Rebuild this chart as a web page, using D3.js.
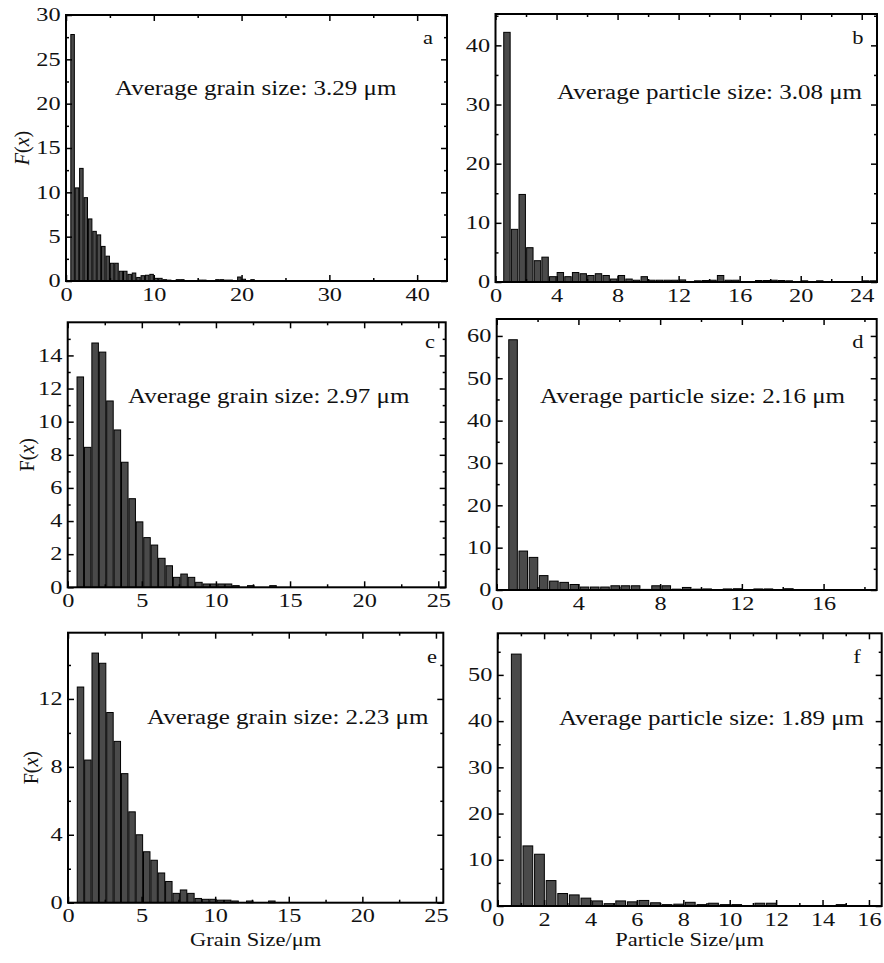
<!DOCTYPE html>
<head>
<meta charset="utf-8">
<style>
  body { margin:0; background:#fff; }
  svg { display:block; }
  text { font-family:"Liberation Serif","Times New Roman",serif; fill:#111; }
</style>
<script src="https://d3js.org/d3.v7.min.js"></script>
</head>
<body>
<script>

// bin centres (um) and F(x) values
var binsA = [0.75,1.25,1.75,2.25,2.75,3.25,3.75,4.25,4.75,5.25,5.75,6.25,6.75,7.25,7.75,8.25,8.75,9.25,9.75,10.25,
             10.75,11.25,11.75,12.25,12.75,13.25,13.75,14.25,14.75,15.25,15.75,16.25,16.75,17.25,17.75,18.25,18.75,19.25,19.75,20.25,
             20.75,21.25,21.75];
var valsA = [27.8,10.5,12.7,9.4,7.0,5.6,5.2,3.9,2.8,2.0, 2.0,1.1,1.1,0.75,0.9,0.4,0.6,0.65,0.75,0.3,
             0.3,0.15,0.1,0.05,0.15,0.15,0,0,0,0.1, 0.1,0,0,0.15,0.15,0.1,0.1,0,0.45,0.2, 0,0.15,0];

var binsB = [0.75,1.25,1.75,2.25,2.75,3.25,3.75,4.25,4.75,5.25,5.75,6.25,6.75,7.25,7.75,8.25,8.75,9.25,9.75,10.25,
             10.75,11.25,11.75,12.25,12.75,13.25,13.75,14.25,14.75,15.25,15.75,16.25,16.75,17.25,17.75,18.25,18.75,19.25,19.75,20.25,
             20.75,21.25,21.75,22.25,22.75,23.25,23.75,24.25,24.75];
var valsB = [42.2,8.9,14.8,5.8,3.6,4.2,0.9,1.6,0.9,1.6, 1.4,1.1,1.4,1.1,0.5,1.1,0.5,0.3,0.9,0.3,
             0.3,0.3,0.3,0.35,0.05,0.2,0.25,0.3,1.1,0.3, 0.3,0,0,0.25,0.25,0.3,0.25,0.2,0,0.2,
             0,0.2,0,0,0,0,0,0.2,0.2];

var binsC = [0.85,1.35,1.85,2.35,2.85,3.35,3.85,4.35,4.85,5.35,5.85,6.35,6.85,7.35,7.85,8.35,8.85,9.35,9.85,10.35,
             10.85,11.35,11.85,12.35,12.85,13.35,13.85];
var valsC = [12.7,8.45,14.75,14.2,11.25,9.5,7.55,5.35,3.95,3.0, 2.55,1.75,1.3,0.6,0.8,0.6,0.3,0.2,0.2,0.2,
             0.2,0.1,0,0.1,0,0,0.1];

var binsD = [0.8,1.3,1.8,2.3,2.8,3.3,3.8,4.3,4.8,5.3,5.8,6.3,6.8,7.3,7.8,8.3,8.8,9.3,9.8,10.3,
             10.8,11.3,11.8,12.3,12.8,13.3,13.8,14.3];
var valsD = [59.1,9.2,7.7,3.4,2.1,1.8,1.3,0.7,0.7,0.7, 1.0,1.0,1.0,0.15,1.0,1.0,0.2,0.6,0.2,0.25,
             0,0.25,0.3,0,0.25,0.25,0,0.3];

var binsE = [0.85,1.35,1.85,2.35,2.85,3.35,3.85,4.35,4.85,5.35,5.85,6.35,6.85,7.35,7.85,8.35,8.85,9.35,9.85,10.35,
             10.85,11.35,11.85,12.35,12.85,13.35,13.85];
var valsE = [12.7,8.4,14.7,14.1,11.2,9.5,7.6,5.35,4.0,3.0, 2.5,1.75,1.25,0.55,0.75,0.55,0.25,0.2,0.2,0.15,
             0.15,0.1,0,0.1,0,0,0.1];

var binsF = [0.8,1.3,1.8,2.3,2.8,3.3,3.8,4.3,4.8,5.3,5.8,6.3,6.8,7.3,7.8,8.3,8.8,9.3,9.8,10.3,
             10.8,11.3,11.8,12.3,12.8,13.3,13.8,14.3,14.8];
var valsF = [54.5,13.0,11.2,5.5,2.7,2.4,1.7,1.1,0.5,1.1, 0.9,1.2,0.7,0.3,0.4,0.8,0.3,0.6,0.3,0.3,
             0,0.6,0.6,0,0,0,0,0,0.3];

// tick labels
var xTicksA = [0,10,20,30,40],   yTicksA = [0,5,10,15,20,25,30];
var xTicksB = [0,4,8,12,16,20,24], yTicksB = [0,10,20,30,40];
var xTicksC = [0,5,10,15,20,25], yTicksC = [0,2,4,6,8,10,12,14];
var xTicksD = [0,4,8,12,16],     yTicksD = [0,10,20,30,40,50,60];
var xTicksE = [0,5,10,15,20,25], yTicksE = [0,4,8,12];
var xTicksF = [0,2,4,6,8,10,12,14,16], yTicksF = [0,10,20,30,40,50];

var notes = ["Average grain size: 3.29 \u03bcm", "Average particle size: 3.08 \u03bcm",
             "Average grain size: 2.97 \u03bcm", "Average particle size: 2.16 \u03bcm",
             "Average grain size: 2.23 \u03bcm", "Average particle size: 1.89 \u03bcm"];
var letters = ["a","b","c","d","e","f"];

var width = 884, height = 963;
var svg = d3.select("body").append("svg").attr("width", width).attr("height", height);

// the original type is set wide, so text gets a horizontal stretch
var wide = "scale(1.25,1)";

var panels = [
  {bins:binsA, vals:valsA, xt:xTicksA, yt:yTicksA, xMax:43.4, yMax:30, xMin:5, yMin:2.5, hw:0.2,
   left:66, right:447, top:15, bottom:281, nx:115, ny:95, lx:428, ly:38, ylab:"italic", yx:29},
  {bins:binsB, vals:valsB, xt:xTicksB, yt:yTicksB, xMax:25, yMax:45.3, xMin:2, yMin:5, hw:0.21,
   left:495.5, right:877, top:14, bottom:282, nx:557, ny:99, lx:858, ly:38},
  {bins:binsC, vals:valsC, xt:xTicksC, yt:yTicksC, xMax:25.5, yMax:16, xMin:2.5, yMin:1, hw:0.22,
   left:67.7, right:445.7, top:322.3, bottom:587.3, nx:128, ny:403, lx:430, ly:342, ylab:"roman", yx:34},
  {bins:binsD, vals:valsD, xt:xTicksD, yt:yTicksD, xMax:18.6, yMax:64, xMin:2, yMin:5, hw:0.21,
   left:496.7, right:876.7, top:319, bottom:590, nx:540, ny:403, lx:858, ly:342},
  {bins:binsE, vals:valsE, xt:xTicksE, yt:yTicksE, xMax:25.5, yMax:15.9, xMin:2.5, yMin:2, hw:0.22,
   left:68, right:443.3, top:632.7, bottom:902.7, nx:147, ny:724, lx:432, ly:657, ylab:"roman", yx:38,
   xlab:"Grain Size/\u03bcm"},
  {bins:binsF, vals:valsF, xt:xTicksF, yt:yTicksF, xMax:16.55, yMax:59, xMin:1, yMin:5, hw:0.21,
   left:497.7, right:881.7, top:633.3, bottom:906, nx:559, ny:725, lx:857, ly:657,
   xlab:"Particle Size/\u03bcm"}
];

panels.forEach(function(p, i) {
  var g = svg.append("g");
  var x = d3.scaleLinear().domain([0, p.xMax]).range([p.left, p.right]);
  var y = d3.scaleLinear().domain([0, p.yMax]).range([p.bottom, p.top]);

  var rows = p.bins.map(function(c, k) { return {c:c, v:p.vals[k]}; })
                   .filter(function(d) { return d.v > 0; });
  g.selectAll("rect.bar").data(rows).join("rect")
    .attr("class", "bar")
    .attr("x", function(d) { return x(d.c - p.hw); })
    .attr("width", function(d) { return x(d.c + p.hw) - x(d.c - p.hw); })
    .attr("y", function(d) { return y(d.v); })
    .attr("height", function(d) { return y(0) - y(d.v); })
    .attr("fill", "#4a4a4a")
    .attr("stroke", "#000")
    .attr("stroke-width", 1);

  var xMinor = d3.range(0, p.xMax, p.xMin).filter(function(v) { return p.xt.indexOf(v) < 0; });
  var yMinor = d3.range(0, p.yMax, p.yMin).filter(function(v) { return p.yt.indexOf(v) < 0; });

  function put(axis, tr) {
    var a = g.append("g").attr("transform", tr).call(axis);
    a.select(".domain").remove();
    a.selectAll("line").attr("stroke", "#000").attr("stroke-width", 1.5);
    a.selectAll("text").style("font-size", "18px").style("font-family", null)
      .attr("transform", "scale(1.35,1)");
    return a;
  }
  put(d3.axisBottom(x).tickValues(p.xt).tickSize(-6).tickPadding(7), "translate(0," + p.bottom + ")");
  put(d3.axisBottom(x).tickValues(xMinor).tickSize(-3).tickFormat(""), "translate(0," + p.bottom + ")");
  put(d3.axisTop(x).tickValues(p.xt).tickSize(-6).tickFormat(""), "translate(0," + p.top + ")");
  put(d3.axisTop(x).tickValues(xMinor).tickSize(-3).tickFormat(""), "translate(0," + p.top + ")");
  put(d3.axisLeft(y).tickValues(p.yt).tickSize(-6).tickPadding(4), "translate(" + p.left + ",0)");
  put(d3.axisLeft(y).tickValues(yMinor).tickSize(-3).tickFormat(""), "translate(" + p.left + ",0)");
  put(d3.axisRight(y).tickValues(p.yt).tickSize(-6).tickFormat(""), "translate(" + p.right + ",0)");
  put(d3.axisRight(y).tickValues(yMinor).tickSize(-3).tickFormat(""), "translate(" + p.right + ",0)");

  g.append("rect")
    .attr("x", p.left).attr("y", p.top)
    .attr("width", p.right - p.left).attr("height", p.bottom - p.top)
    .attr("fill", "none").attr("stroke", "#000").attr("stroke-width", 2);

  g.append("text").attr("transform", "translate(" + p.nx + "," + p.ny + ") " + wide)
    .style("font-size", "20px").text(notes[i]);
  g.append("text").attr("transform", "translate(" + p.lx + "," + p.ly + ") " + wide)
    .attr("dy", "0.35em").attr("text-anchor", "middle").style("font-size", "18px").text(letters[i]);

  if (p.ylab) {
    var t = g.append("text")
      .attr("transform", "translate(" + p.yx + "," + ((p.top + p.bottom) / 2) + ") rotate(-90)")
      .attr("text-anchor", "middle").style("font-size", "20px");
    t.append("tspan").style("font-style", p.ylab == "italic" ? "italic" : "normal").text("F");
    t.append("tspan").text("(");
    t.append("tspan").style("font-style", "italic").text("x");
    t.append("tspan").text(")");
  }
  if (p.xlab) {
    g.append("text").attr("transform", "translate(" + ((p.left + p.right) / 2) + ",946) " + wide)
      .attr("text-anchor", "middle").style("font-size", "18px").text(p.xlab);
  }
});

</script>
</body>
